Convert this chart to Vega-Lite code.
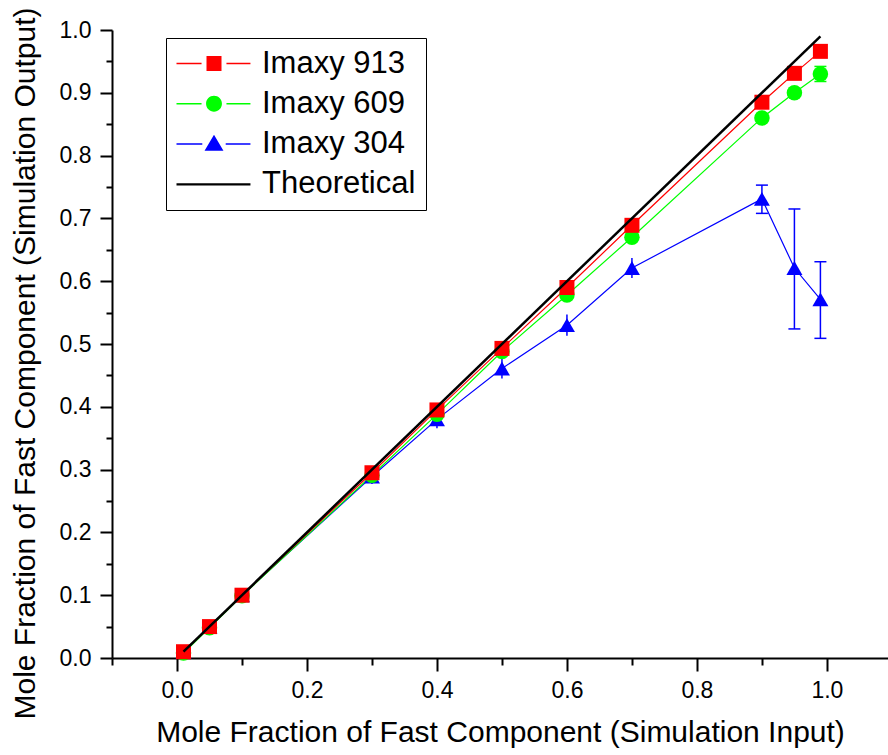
{
  "$schema": "https://vega.github.io/schema/vega-lite/v6.json",
  "autosize": {"type": "none"},
  "padding": {"left": 112, "top": 30, "right": 0, "bottom": 97},
  "width": 776,
  "height": 628,
  "background": "white",
  "config": {
    "view": {"stroke": null},
    "font": "Liberation Sans",
    "axis": {
      "grid": false,
      "domainColor": "black",
      "domainWidth": 2,
      "tickColor": "black",
      "tickWidth": 2,
      "labelFont": "Liberation Sans",
      "labelColor": "black",
      "titleFont": "Liberation Sans",
      "titleFontWeight": "normal",
      "titleColor": "black"
    }
  },
  "data": {
    "values": [
      {"series": "Imaxy 304", "x": 0.01, "y": 0.01},
      {"series": "Imaxy 304", "x": 0.05, "y": 0.05},
      {"series": "Imaxy 304", "x": 0.1, "y": 0.1},
      {"series": "Imaxy 304", "x": 0.3, "y": 0.289, "lo": 0.277, "hi": 0.301},
      {"series": "Imaxy 304", "x": 0.4, "y": 0.38, "lo": 0.366, "hi": 0.394},
      {"series": "Imaxy 304", "x": 0.5, "y": 0.461, "lo": 0.445, "hi": 0.477},
      {"series": "Imaxy 304", "x": 0.6, "y": 0.53, "lo": 0.513, "hi": 0.547},
      {"series": "Imaxy 304", "x": 0.7, "y": 0.621, "lo": 0.605, "hi": 0.637},
      {"series": "Imaxy 304", "x": 0.9, "y": 0.731, "lo": 0.708, "hi": 0.753},
      {"series": "Imaxy 304", "x": 0.95, "y": 0.621, "lo": 0.524, "hi": 0.715},
      {"series": "Imaxy 304", "x": 0.99, "y": 0.571, "lo": 0.509, "hi": 0.631},
      {"series": "Imaxy 609", "x": 0.01, "y": 0.008},
      {"series": "Imaxy 609", "x": 0.05, "y": 0.048},
      {"series": "Imaxy 609", "x": 0.1, "y": 0.099},
      {"series": "Imaxy 609", "x": 0.3, "y": 0.291},
      {"series": "Imaxy 609", "x": 0.4, "y": 0.388},
      {"series": "Imaxy 609", "x": 0.5, "y": 0.488},
      {"series": "Imaxy 609", "x": 0.6, "y": 0.578},
      {"series": "Imaxy 609", "x": 0.7, "y": 0.67},
      {"series": "Imaxy 609", "x": 0.9, "y": 0.86},
      {"series": "Imaxy 609", "x": 0.95, "y": 0.9},
      {"series": "Imaxy 609", "x": 0.99, "y": 0.93, "lo": 0.918, "hi": 0.942},
      {"series": "Imaxy 913", "x": 0.01, "y": 0.01},
      {"series": "Imaxy 913", "x": 0.05, "y": 0.05},
      {"series": "Imaxy 913", "x": 0.1, "y": 0.1},
      {"series": "Imaxy 913", "x": 0.3, "y": 0.295},
      {"series": "Imaxy 913", "x": 0.4, "y": 0.395},
      {"series": "Imaxy 913", "x": 0.5, "y": 0.493},
      {"series": "Imaxy 913", "x": 0.6, "y": 0.59},
      {"series": "Imaxy 913", "x": 0.7, "y": 0.689},
      {"series": "Imaxy 913", "x": 0.9, "y": 0.885},
      {"series": "Imaxy 913", "x": 0.95, "y": 0.931},
      {"series": "Imaxy 913", "x": 0.99, "y": 0.966},
      {"series": "Theoretical", "x": 0.01, "y": 0.01},
      {"series": "Theoretical", "x": 0.99, "y": 0.99}
    ]
  },
  "encoding": {
    "x": {
      "field": "x",
      "type": "quantitative",
      "scale": {"domain": [-0.1, 1.094], "nice": false, "zero": false},
      "axis": {
        "title": "Mole Fraction of Fast Component (Simulation Input)",
        "titleFontSize": 30,
        "labelFontSize": 23,
        "values": [-0.1, 0, 0.1, 0.2, 0.3, 0.4, 0.5, 0.6, 0.7, 0.8, 0.9, 1.0],
        "labelExpr": "abs(round(datum.value*10)) % 2 == 0 ? format(datum.value, '.1f') : ''",
        "tickSize": 13,
        "tickDash": {"condition": {"test": "abs(round(datum.value*10)) % 2 == 1", "value": [7, 30]}, "value": [1, 0]},
        "labelPadding": 8,
        "titlePadding": 15,
        "labelFlush": false,
        "labelOverlap": false
      }
    },
    "y": {
      "field": "y",
      "type": "quantitative",
      "scale": {"domain": [0, 1], "nice": false},
      "axis": {
        "title": "Mole Fraction of Fast Component (Simulation Output)",
        "titleFontSize": 30,
        "labelFontSize": 23,
        "titleY": 333,
        "values": [0, 0.05, 0.1, 0.15, 0.2, 0.25, 0.3, 0.35, 0.4, 0.45, 0.5, 0.55, 0.6, 0.65, 0.7, 0.75, 0.8, 0.85, 0.9, 0.95, 1.0],
        "labelExpr": "abs(round(datum.value*20)) % 2 == 0 ? format(datum.value, '.1f') : ''",
        "tickSize": 12,
        "tickDash": {"condition": {"test": "abs(round(datum.value*20)) % 2 == 1", "value": [6, 30]}, "value": [1, 0]},
        "labelPadding": 9,
        "titlePadding": 19,
        "labelFlush": false,
        "labelOverlap": false
      }
    },
    "color": {
      "field": "series",
      "type": "nominal",
      "scale": {
        "domain": ["Imaxy 913", "Imaxy 609", "Imaxy 304", "Theoretical"],
        "range": ["#ff0000", "#00ff00", "#0000ff", "#000000"]
      },
      "legend": null
    }
  },
  "resolve": {"scale": {"color": "independent", "shape": "independent"}},
  "layer": [
    {
      "transform": [{"filter": "isValid(datum.lo)"}],
      "mark": {"type": "rule", "strokeWidth": 1.5},
      "encoding": {
        "y": {"field": "lo", "type": "quantitative"},
        "y2": {"field": "hi"}
      }
    },
    {
      "transform": [{"filter": "isValid(datum.lo) && datum.x >= 0.9"}],
      "mark": {"type": "point", "shape": "stroke", "size": 144, "strokeWidth": 1.5, "filled": false, "opacity": 1},
      "encoding": {
        "y": {"field": "lo", "type": "quantitative"}
      }
    },
    {
      "transform": [{"filter": "isValid(datum.hi) && datum.x >= 0.9"}],
      "mark": {"type": "point", "shape": "stroke", "size": 144, "strokeWidth": 1.5, "filled": false, "opacity": 1},
      "encoding": {
        "y": {"field": "hi", "type": "quantitative"}
      }
    },
    {
      "transform": [{"filter": "datum.series !== 'Theoretical'"}],
      "mark": {"type": "line", "strokeWidth": 1.2},
      "encoding": {
        "order": {"field": "x", "type": "quantitative"}
      }
    },
    {
      "transform": [{"filter": "datum.series !== 'Theoretical'"}],
      "mark": {"type": "point", "filled": true, "opacity": 1, "strokeWidth": 0},
      "encoding": {
        "shape": {
          "field": "series",
          "type": "nominal",
          "scale": {"domain": ["Imaxy 913", "Imaxy 609", "Imaxy 304"], "range": ["square", "circle", "triangle-up"]},
          "legend": null
        },
        "size": {
          "field": "series",
          "type": "nominal",
          "scale": {"domain": ["Imaxy 913", "Imaxy 609", "Imaxy 304"], "range": [225, 256, 324]},
          "legend": null
        }
      }
    },
    {
      "transform": [{"filter": "datum.series === 'Theoretical'"}],
      "mark": {"type": "line", "strokeWidth": 2.5},
      "encoding": {}
    },
    {
      "mark": {"type": "point", "filled": true, "opacity": 0, "strokeWidth": 0},
      "encoding": {
        "color": {
          "field": "series",
          "type": "nominal",
          "scale": {
            "domain": ["Imaxy 913", "Imaxy 609", "Imaxy 304", "Theoretical"],
            "range": ["#ff0000", "#00ff00", "#0000ff", "#000000"]
          },
          "legend": {
            "title": null,
            "orient": "none",
            "legendX": 54,
            "legendY": 8,
            "padding": 10,
            "strokeColor": "black",
            "fillColor": "white",
            "cornerRadius": 0,
            "labelFont": "Liberation Sans",
            "labelFontSize": 31,
            "labelColor": "black",
            "labelOffset": 55,
            "symbolSize": 900,
            "symbolStrokeWidth": 0,
            "rowPadding": 8.3,
            "symbolOpacity": 1
          }
        },
        "shape": {
          "field": "series",
          "type": "nominal",
          "scale": {
            "domain": ["Imaxy 913", "Imaxy 609", "Imaxy 304", "Theoretical"],
            "range": [
              "M-1,-0.05H0.67V0.05H-1Z M2.33,-0.05H3.93V0.05H2.33Z M1,-0.5H2V0.5H1Z",
              "M-1,-0.05H0.67V0.05H-1Z M2.33,-0.05H3.93V0.05H2.33Z M0.97,0A0.53,0.53 0 1,0 2.03,0A0.53,0.53 0 1,0 0.97,0Z",
              "M-1,-0.05H0.72V0.05H-1Z M2.28,-0.05H3.93V0.05H2.28Z M1.5,-0.62L2.13,0.45L0.87,0.45Z",
              "M-1,-0.08H3.93V0.08H-1Z"
            ]
          },
          "legend": {
            "title": null,
            "orient": "none",
            "legendX": 54,
            "legendY": 8,
            "padding": 10,
            "strokeColor": "black",
            "fillColor": "white",
            "cornerRadius": 0,
            "labelFont": "Liberation Sans",
            "labelFontSize": 31,
            "labelColor": "black",
            "labelOffset": 55,
            "symbolSize": 900,
            "symbolStrokeWidth": 0,
            "rowPadding": 8.3,
            "symbolOpacity": 1
          }
        }
      }
    }
  ]
}
